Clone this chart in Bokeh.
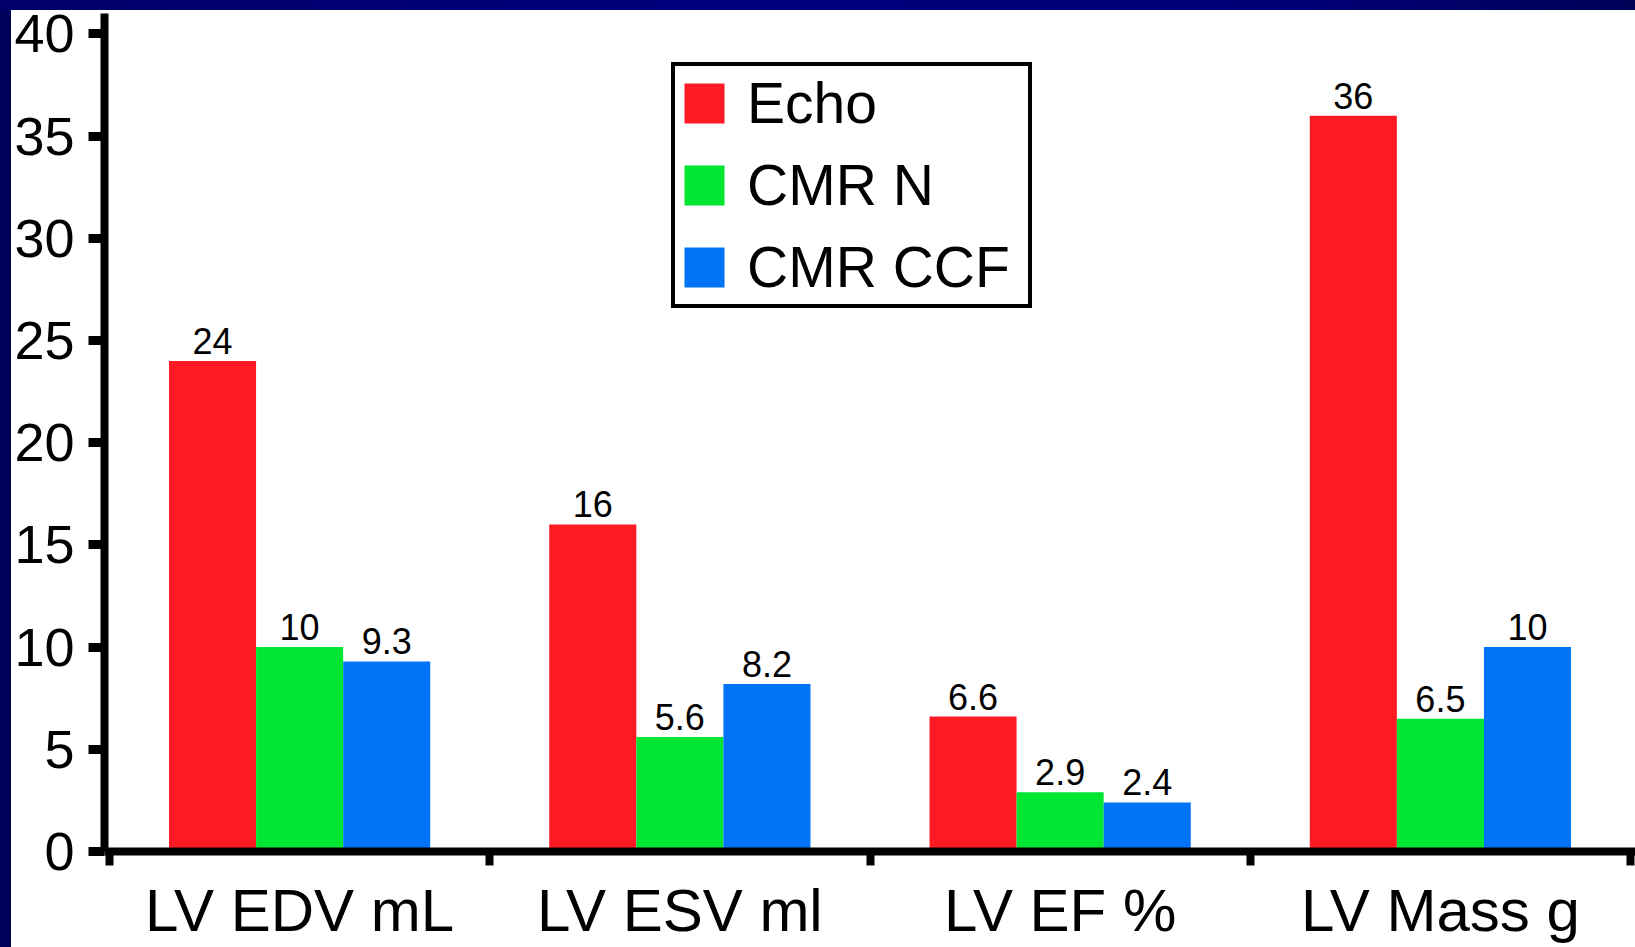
from bokeh.plotting import figure
from bokeh.models import Range1d, FixedTicker, Legend, LegendItem, ColumnDataSource, Div
from bokeh.layouts import column, row
from bokeh.core.properties import value
from bokeh.embed import file_html
from bokeh.resources import INLINE

# Measurement variability by method
categories = ["LV EDV mL", "LV ESV ml", "LV EF %", "LV Mass g"]
series = ["Echo", "CMR N", "CMR CCF"]
echo = [24, 16, 6.6, 36]
cmr_n = [10, 5.6, 2.9, 6.5]
cmr_ccf = [9.3, 8.2, 2.4, 10]
y_ticks = [0, 5, 10, 15, 20, 25, 30, 35, 40]

colors = ["#fe1a24", "#00e633", "#0073f7"]
FONT = "Liberation Sans"
bar_w = 0.229
offsets = [-bar_w, 0.0, bar_w]

p = figure(
    width=1624, height=937,
    x_range=Range1d(-0.0131, 4.0131), y_range=Range1d(0, 41),
    output_backend="svg", toolbar_location=None,
    min_border_left=91, min_border_right=0, min_border_top=3, min_border_bottom=96,
    background_fill_color="white", border_fill_color="white",
    outline_line_color=None, margin=(0, 0, 0, 0),
)
p.xgrid.visible = False
p.ygrid.visible = False

renderers = []
for k, (name, vals) in enumerate(zip(series, [echo, cmr_n, cmr_ccf])):
    src = ColumnDataSource(dict(
        x=[i + 0.5 + offsets[k] for i in range(len(categories))],
        top=vals,
        label=[f"{v:g}" for v in vals],
    ))
    r = p.vbar(x="x", top="top", bottom=0, width=bar_w, source=src,
               fill_color=colors[k], line_color=None)
    renderers.append(r)
    p.text(x="x", y="top", text="label", source=src, text_align="center",
           text_baseline="bottom", text_font=value(FONT), text_font_size="36px",
           text_color="black", y_offset=-7)

# y axis
ya = p.yaxis[0]
ya.ticker = FixedTicker(ticks=y_ticks, minor_ticks=[])
ya.axis_line_width = 8
ya.axis_line_color = "black"
ya.major_tick_out = 16
ya.major_tick_in = 0
ya.major_tick_line_width = 9
ya.major_tick_line_color = "black"
ya.minor_tick_line_color = None
ya.major_label_text_font = FONT
ya.major_label_text_font_size = "54px"
ya.major_label_text_color = "black"
ya.major_label_standoff = 14

# x axis: labels at group centres, tick marks at group boundaries
xa = p.xaxis[0]
xa.ticker = FixedTicker(ticks=[i + 0.5 for i in range(len(categories))],
                        minor_ticks=list(range(len(categories) + 1)))
xa.major_label_overrides = {i + 0.5: c for i, c in enumerate(categories)}
xa.axis_line_width = 8
xa.axis_line_color = "black"
xa.major_tick_line_color = None
xa.major_tick_out = 0
xa.major_tick_in = 0
xa.minor_tick_out = 14
xa.minor_tick_in = 0
xa.minor_tick_line_width = 8
xa.minor_tick_line_color = "black"
xa.major_label_text_font = FONT
xa.major_label_text_font_size = "60px"
xa.major_label_text_color = "black"
xa.major_label_standoff = 11

legend = Legend(
    items=[LegendItem(label=s, renderers=[r]) for s, r in zip(series, renderers)],
    location=(567, 543),
    border_line_color="black", border_line_width=4, border_line_alpha=1.0,
    background_fill_color="white", background_fill_alpha=1.0,
    label_text_font=FONT, label_text_font_size="57px", label_text_color="black",
    glyph_width=50, glyph_height=50, label_height=42, label_width=277,
    label_standoff=18, spacing=16, padding=4, margin=0,
)
p.add_layout(legend)

top_band = Div(text="", width=1635, height=10, margin=(0, 0, 0, 0),
               styles={"background": "linear-gradient(to right, #000068, #00007e 45%, #000076 80%, #000056)"})
left_band = Div(text="", width=11, height=937, margin=(0, 0, 0, 0),
                styles={"background": "#000058"})

layout = column(top_band, row(left_band, p, spacing=0), spacing=0)

with open("out.html", "w") as f:
    f.write(file_html(layout, INLINE))
